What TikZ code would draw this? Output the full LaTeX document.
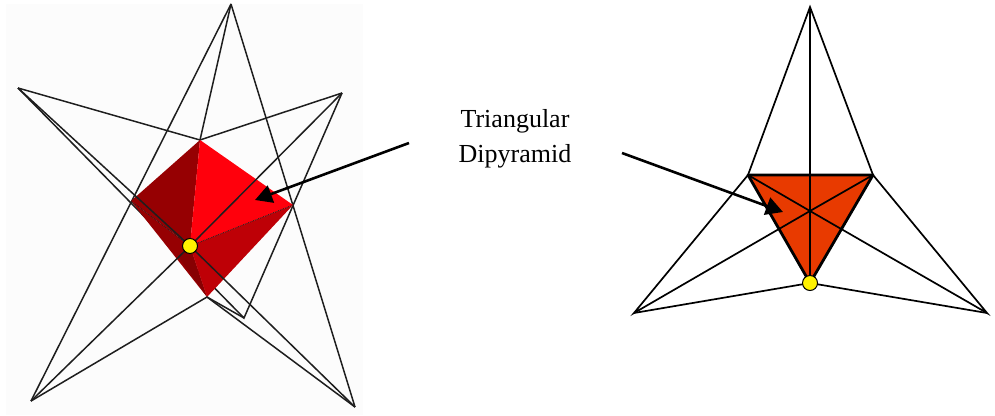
\documentclass[tikz,border=0pt]{standalone}
\usepackage{fontspec}
\setmainfont{Liberation Serif}
\usetikzlibrary{arrows.meta}
\definecolor{paneback}{RGB}{252,252,252}
\definecolor{facedark}{RGB}{150,0,2}
\definecolor{facedeep}{RGB}{135,0,2}
\definecolor{facebright}{RGB}{255,0,12}
\definecolor{facemid}{RGB}{190,0,6}
\definecolor{faceorange}{RGB}{232,58,0}
\definecolor{wirecolor}{RGB}{30,30,30}
\tikzset{
  wire/.style={wirecolor,line width=1.5pt},
  wirethin/.style={wirecolor,line width=0.8pt,densely dotted},
  flatwire/.style={black,line width=1.7pt},
  flatedge/.style={black,line width=2.8pt,line join=round},
  vertexdot/.style={circle,draw=black,fill=yellow,line width=1pt,inner sep=0pt,minimum size=15pt},
  pointer/.style={black,line width=2.6pt,-{Triangle[length=17pt,width=18pt]}},
  caption/.style={font=\fontsize{26}{35}\selectfont,align=center}
}
\begin{document}
\begin{tikzpicture}[x=1pt,y=-1pt]
  \useasboundingbox (0,0) rectangle (995,415);
  % left: solid in wire frame
  \fill[paneback] (6,4) rectangle (363,415);
  \coordinate (apex) at (231,4);
  \coordinate (farleft) at (18,88);
  \coordinate (farright) at (342,93);
  \coordinate (lowleft) at (31,401);
  \coordinate (lowright) at (355,407);
  \coordinate (rear) at (244,318);
  \coordinate (redtop) at (200,140);
  \coordinate (redleft) at (131,201);
  \coordinate (redright) at (293,205);
  \coordinate (redlow) at (207,297);
  \coordinate (hub) at (190,246);
  \draw[wire] (apex) -- (redtop);
  \draw[wire] (apex) -- (lowleft);
  \draw[wire] (apex) -- (lowright);
  \draw[wire] (farleft) -- (redtop) -- (farright);
  \draw[wire] (farleft) -- (rear) -- (farright);
  \draw[wire] (rear) -- (redlow);
  \fill[facedark] (redtop) -- (redleft) -- (hub) -- cycle;
  \fill[facedark] (redleft) -- (redlow) -- (hub) -- cycle;
  \fill[facedeep] (178,256) -- (redlow) -- (hub) -- cycle;
  \fill[facebright] (redtop) -- (redright) -- (hub) -- cycle;
  \fill[facemid] (redright) -- (redlow) -- (hub) -- cycle;
  \draw[wirethin] (redleft) -- (hub) -- (redright);
  \draw[wire] (farright) -- (hub);
  \draw[wire] (farleft) -- (hub) -- (lowright);
  \draw[wire] (lowleft) -- (hub);
  \draw[wire] (lowleft) -- (redlow) -- (lowright);
  % right: same solid seen along its axis
  \coordinate (ftop) at (810,7);
  \coordinate (fleft) at (748,175);
  \coordinate (fright) at (873,175);
  \coordinate (fmid) at (810,211);
  \coordinate (flow) at (810,283);
  \coordinate (fcornerl) at (634,313);
  \coordinate (fcornerr) at (987,313);
  \fill[faceorange] (fleft) -- (fright) -- (flow) -- cycle;
  \draw[flatwire] (fleft) -- (ftop) -- (fright);
  \draw[flatwire] (ftop) -- (flow);
  \draw[flatwire] (fleft) -- (fcornerl) -- (fmid) -- (fcornerr) -- (fright);
  \draw[flatwire] (fleft) -- (fmid) -- (fright);
  \draw[flatwire] (fcornerl) -- (flow) -- (fcornerr);
  \draw[flatedge] (fleft) -- (fright) -- (flow) -- cycle;
  % label and its two arrows
  \node[caption] (solidname) at (515,138.5) {Triangular\\Dipyramid};
  \coordinate (tailleft) at (409,143);
  \coordinate (tipleft) at (255,200);
  \coordinate (tailright) at (622,153);
  \coordinate (tipright) at (783,212);
  \draw[pointer] (tailleft) -- (tipleft);
  \draw[pointer] (tailright) -- (tipright);
  \node[vertexdot] (hubdot) at (hub) {};
  \node[vertexdot] (flowdot) at (flow) {};
\end{tikzpicture}
\end{document}
